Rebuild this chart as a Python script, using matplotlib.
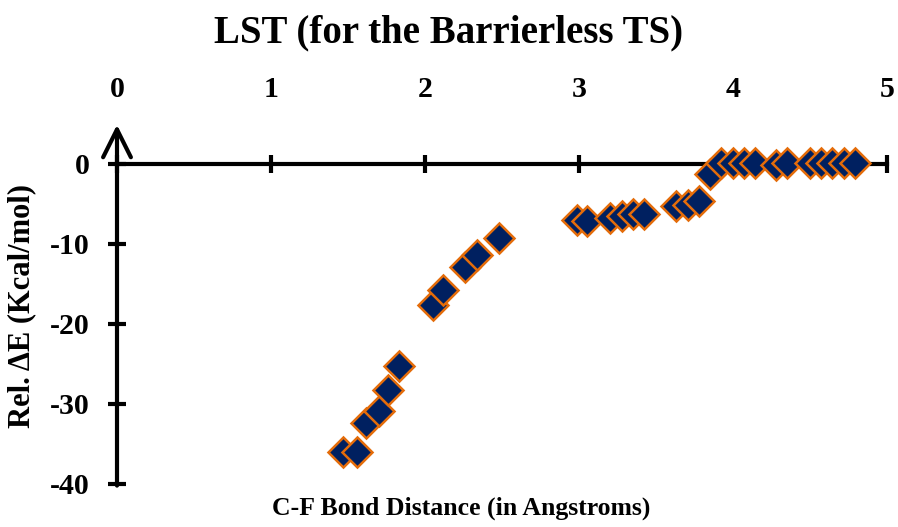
import matplotlib.pyplot as plt
import numpy as np

# C-F bond distance (Angstrom) vs relative energy (kcal/mol)
bond_dist = [1.47, 1.56, 1.62, 1.70, 1.76, 1.83, 2.05, 2.12, 2.26, 2.34, 2.48,
             2.985, 3.05, 3.20, 3.28, 3.35, 3.42, 3.63, 3.71, 3.78, 3.85,
             3.92, 4.00, 4.07, 4.14, 4.28, 4.35, 4.50, 4.57, 4.645, 4.72, 4.79]
rel_energy = [-36.0, -36.0, -32.4, -30.9, -28.2, -25.3, -17.6, -15.8, -12.9, -11.4, -9.3,
              -7.0, -7.1, -6.8, -6.5, -6.3, -6.2, -5.3, -5.1, -4.6, -1.3,
              0.1, 0.1, 0.1, 0.1, -0.1, 0.1, 0.1, 0.1, 0.1, 0.1, 0.1]

x_ticks = [0, 1, 2, 3, 4, 5]
y_ticks = [0, -10, -20, -30, -40]

plt.rcParams['font.family'] = ['Liberation Serif', 'DejaVu Serif']
plt.rcParams['font.weight'] = 'bold'

W, H = 898, 527
fig = plt.figure(figsize=(W / 100, H / 100), dpi=100)
# axes placed in pixels: x 0..5 -> 117..887, y -40..5 -> 484..124
ax = fig.add_axes([117 / W, (H - 484) / H, 770 / W, 360 / H])
ax.set_xlim(0, 5)
ax.set_ylim(-40, 5)
ax.patch.set_visible(False)

ax.plot(bond_dist, rel_energy, linestyle='none', marker='D', markersize=15,
        markerfacecolor='#002060', markeredgecolor='#E46C0A', markeredgewidth=1.8,
        clip_on=False, zorder=5)

# x axis line at y = 0 with labels on top
for s in ['bottom', 'right', 'left']:
    ax.spines[s].set_visible(False)
ax.spines['top'].set_position(('data', 0))
ax.spines['top'].set_linewidth(3)
ax.spines['top'].set_bounds(0, 5)
ax.xaxis.set_ticks_position('top')
ax.set_xticks(x_ticks)
ax.set_xticklabels([str(t) for t in x_ticks])
ax.tick_params(axis='x', direction='inout', length=13.5, width=3, pad=37, labelsize=21.5)

# y axis with open arrow head
ax.annotate('', xy=(0, 4.9), xytext=(0, -40.2),
            arrowprops=dict(arrowstyle='->', lw=3, mutation_scale=50, color='black',
                            shrinkA=0, shrinkB=0),
            annotation_clip=False)
ax.yaxis.set_ticks_position('left')
ax.set_yticks(y_ticks)
ax.set_yticklabels([str(t) for t in y_ticks])
ax.tick_params(axis='y', direction='inout', length=13.5, width=3, pad=13, labelsize=21.5)

fig.text(449 / W, 1 - 33 / H, 'LST (for the Barrierless TS)', ha='center', va='center',
         fontsize=28, fontweight='bold')
fig.text(461 / W, 1 - 508 / H, 'C-F Bond Distance (in Angstroms)', ha='center', va='center',
         fontsize=18.5, fontweight='bold')
fig.text(22 / W, 1 - 306 / H, 'Rel. ΔE (Kcal/mol)', ha='center', va='center',
         rotation=90, fontsize=22, fontweight='bold')

fig.savefig('out.png', dpi=100)
